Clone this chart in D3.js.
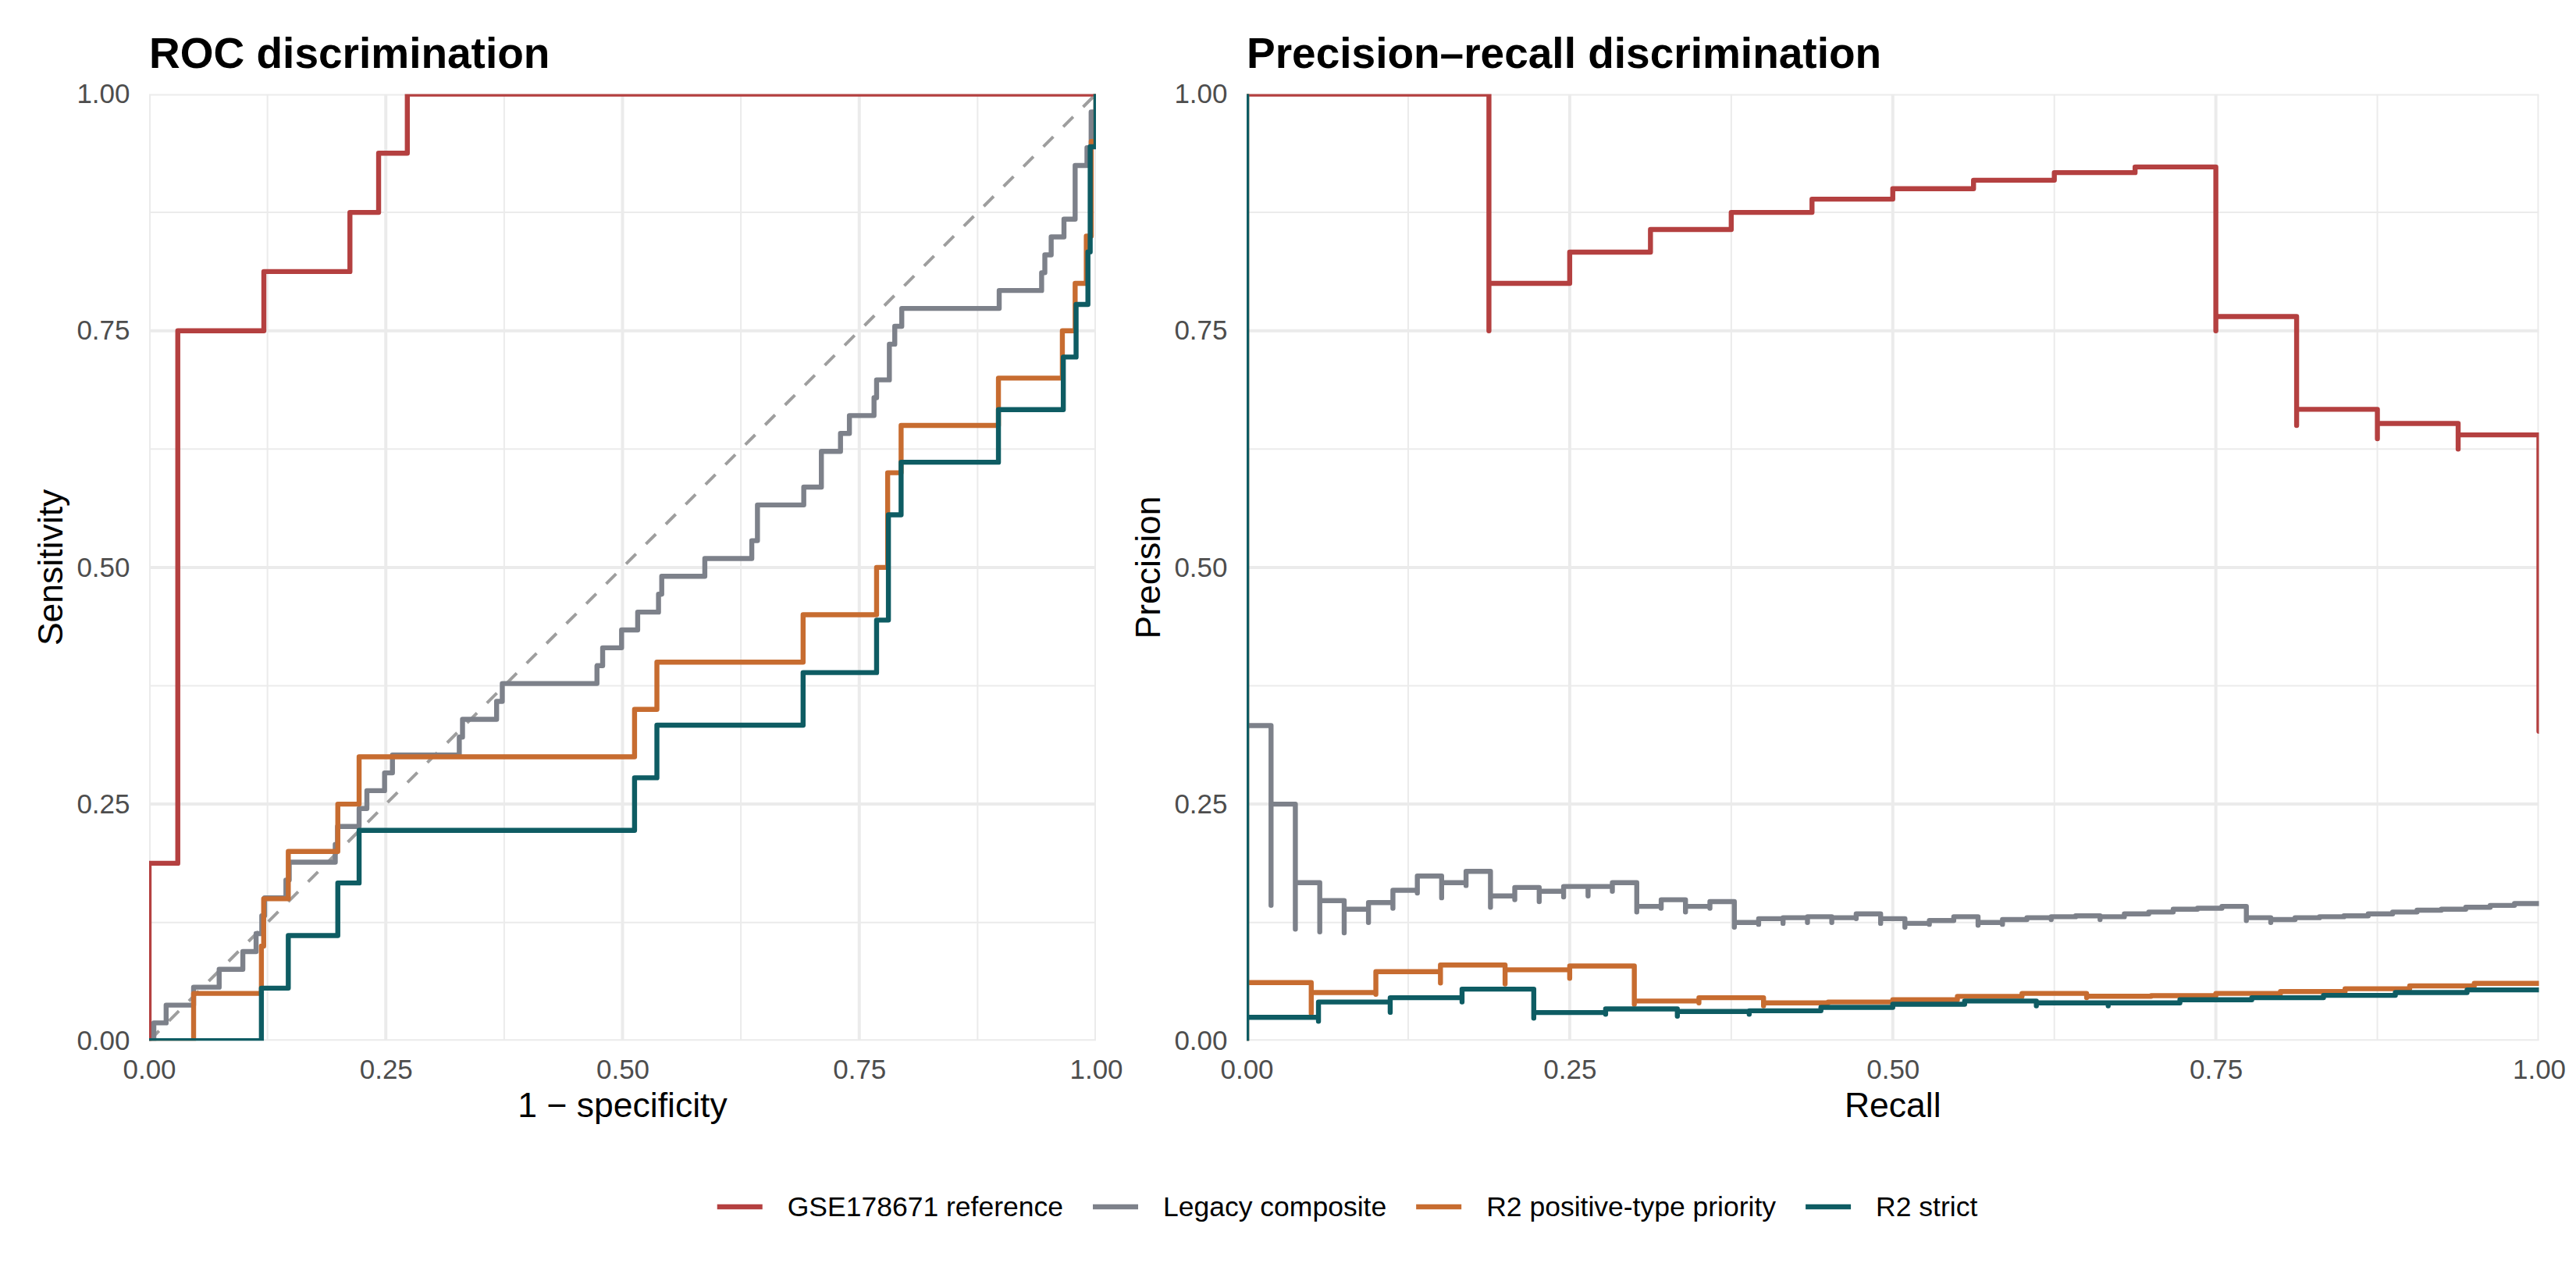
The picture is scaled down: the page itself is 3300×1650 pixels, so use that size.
<!DOCTYPE html>
<html>
<head>
<meta charset="utf-8">
<script src="https://cdn.jsdelivr.net/npm/d3@7/dist/d3.min.js"></script>
<style>
  body { margin: 0; background: #ffffff; }
  text { font-family: "Liberation Sans", Arial, sans-serif; }
</style>
</head>
<body>
<script>
// series, in legend / drawing order
var seriesNames = ["GSE178671 reference", "Legacy composite", "R2 positive-type priority", "R2 strict"];
var seriesColors = ["#B44040", "#7D818A", "#C76C30", "#0E5C63"];

var tickValues = [0, 0.25, 0.5, 0.75, 1];
var minorTicks = [0.125, 0.375, 0.625, 0.875];
var chanceLine = [[0, 0], [1, 1]];

// ROC points: [1 - specificity, sensitivity]
var rocReference = [[0,0],[0,0.1875],[0.0303,0.1875],[0.0303,0.75],[0.1212,0.75],[0.1212,0.8125],
  [0.2121,0.8125],[0.2121,0.875],[0.2424,0.875],[0.2424,0.9375],[0.2727,0.9375],[0.2727,1],[1,1]];

var rocLegacy = [[0,0],[0.005,0],[0.005,0.0189],[0.018,0.0189],[0.018,0.0377],[0.047,0.0377],[0.047,0.0566],
  [0.074,0.0566],[0.074,0.0755],[0.099,0.0755],[0.099,0.0943],[0.113,0.0943],[0.113,0.1132],[0.119,0.1132],
  [0.119,0.1321],[0.122,0.1321],[0.122,0.1509],[0.1445,0.1509],[0.1445,0.1698],[0.148,0.1698],[0.148,0.1887],
  [0.1966,0.1887],[0.1966,0.2075],[0.199,0.2075],[0.199,0.2264],[0.2218,0.2264],[0.2218,0.2453],[0.230,0.2453],
  [0.230,0.2642],[0.2487,0.2642],[0.2487,0.2830],[0.257,0.2830],[0.257,0.3019],[0.3276,0.3019],[0.3276,0.3208],
  [0.331,0.3208],[0.331,0.3396],[0.367,0.3396],[0.367,0.3585],[0.373,0.3585],[0.373,0.3774],[0.473,0.3774],
  [0.473,0.3962],[0.479,0.3962],[0.479,0.4151],[0.499,0.4151],[0.499,0.4340],[0.516,0.4340],[0.516,0.4528],
  [0.538,0.4528],[0.538,0.4717],[0.5414,0.4717],[0.5414,0.4906],[0.5869,0.4906],[0.5869,0.5094],[0.6365,0.5094],
  [0.6365,0.5283],[0.6425,0.5283],[0.6425,0.5660],[0.6914,0.5660],[0.6914,0.5849],[0.710,0.5849],[0.710,0.6226],
  [0.7302,0.6226],[0.7302,0.6415],[0.7396,0.6415],[0.7396,0.6604],[0.7656,0.6604],[0.7656,0.6792],[0.7683,0.6792],
  [0.7683,0.6981],[0.7818,0.6981],[0.7818,0.7358],[0.7875,0.7358],[0.7875,0.7547],[0.7949,0.7547],[0.7949,0.7736],
  [0.8978,0.7736],[0.8978,0.7925],[0.9426,0.7925],[0.9426,0.8113],[0.946,0.8113],[0.946,0.8302],[0.9527,0.8302],
  [0.9527,0.8491],[0.9662,0.8491],[0.9662,0.8679],[0.978,0.8679],[0.978,0.9245],[0.9905,0.9245],[0.9905,0.9434],
  [0.9949,0.9434],[0.9949,0.9811],[1,0.9811],[1,1]];

var rocPositive = [[0,0],[0.047,0],[0.047,0.05],[0.1186,0.05],[0.1186,0.10],[0.121,0.10],[0.121,0.15],[0.147,0.15],
  [0.147,0.20],[0.1993,0.20],[0.1993,0.25],[0.2218,0.25],[0.2218,0.30],[0.5127,0.30],[0.5127,0.35],[0.5363,0.35],
  [0.5363,0.40],[0.6907,0.40],[0.6907,0.45],[0.7683,0.45],[0.7683,0.50],[0.78,0.50],[0.78,0.60],[0.7942,0.60],
  [0.7942,0.65],[0.897,0.65],[0.897,0.70],[0.9645,0.70],[0.9645,0.75],[0.978,0.75],[0.978,0.80],[0.9898,0.80],
  [0.9898,0.85],[0.995,0.85],[0.995,0.95],[1,0.95],[1,1]];

var rocStrict = [[0,0],[0.1186,0],[0.1186,0.0556],[0.147,0.0556],[0.147,0.1111],[0.1993,0.1111],[0.1993,0.1667],
  [0.2218,0.1667],[0.2218,0.2222],[0.5127,0.2222],[0.5127,0.2778],[0.5363,0.2778],[0.5363,0.3333],[0.6907,0.3333],
  [0.6907,0.3889],[0.7683,0.3889],[0.7683,0.4444],[0.7808,0.4444],[0.7808,0.5556],[0.7942,0.5556],[0.7942,0.6111],
  [0.897,0.6111],[0.897,0.6667],[0.9655,0.6667],[0.9655,0.7222],[0.979,0.7222],[0.979,0.7778],[0.9915,0.7778],
  [0.9915,0.8333],[0.9939,0.8333],[0.9939,0.9444],[1,0.9444],[1,1]];

// precision-recall points: [recall, precision]
var prReference = [[0,1],[0.0625,1],[0.125,1],[0.1875,1],[0.1875,0.75],[0.25,0.8],[0.3125,0.833],[0.375,0.857],
  [0.4375,0.875],[0.5,0.889],[0.5625,0.9],[0.625,0.909],[0.6875,0.917],[0.75,0.923],[0.75,0.75],[0.8125,0.765],
  [0.8125,0.65],[0.875,0.667],[0.875,0.636],[0.9375,0.652],[0.9375,0.625],[1,0.64],[1,0.327]];

var prLegacy = [[0,1],[0,0],[0.0189,0.333],[0.0189,0.143],[0.0377,0.250],[0.0377,0.118],[0.0566,0.167],[0.0566,0.115],
  [0.0755,0.148],[0.0755,0.114],[0.0943,0.139],[0.0943,0.125],[0.1132,0.146],[0.1132,0.140],[0.1321,0.159],
  [0.1321,0.156],[0.1509,0.174],[0.1509,0.151],[0.1698,0.167],[0.1698,0.164],[0.1887,0.179],[0.1887,0.141],
  [0.2075,0.153],[0.2075,0.149],[0.2264,0.162],[0.2264,0.147],[0.2453,0.158],[0.2453,0.152],[0.2642,0.163],
  [0.2642,0.153],[0.2830,0.163],[0.2830,0.158],[0.3019,0.167],[0.3019,0.136],[0.3208,0.142],[0.3208,0.140],
  [0.3396,0.149],[0.3396,0.136],[0.3585,0.142],[0.3585,0.140],[0.3774,0.147],[0.3774,0.120],[0.3962,0.125],
  [0.3962,0.123],[0.4151,0.129],[0.4151,0.124],[0.4340,0.130],[0.4340,0.125],[0.4528,0.131],[0.4528,0.125],
  [0.4717,0.130],[0.4717,0.129],[0.4906,0.134],[0.4906,0.124],[0.5094,0.129],[0.5094,0.120],[0.5283,0.124],
  [0.5283,0.123],[0.5472,0.127],[0.5660,0.131],[0.5660,0.122],[0.5849,0.125],[0.5849,0.123],[0.6038,0.128],
  [0.6226,0.130],[0.6226,0.128],[0.6415,0.131],[0.6604,0.132],[0.6604,0.128],[0.6792,0.131],[0.6981,0.134],
  [0.7170,0.136],[0.7358,0.139],[0.7547,0.140],[0.7736,0.142],[0.7736,0.127],[0.7925,0.130],[0.7925,0.125],
  [0.8113,0.128],[0.8302,0.130],[0.8491,0.131],[0.8679,0.132],[0.8868,0.134],[0.9057,0.136],[0.9245,0.138],
  [0.9434,0.139],[0.9623,0.141],[0.9811,0.143],[1,0.145]];

var prPositive = [[0,1],[0,0],[0.05,0.0615],[0.05,0.029],[0.10,0.051],[0.10,0.049],[0.15,0.073],[0.15,0.061],
  [0.20,0.080],[0.20,0.060],[0.25,0.075],[0.25,0.066],[0.30,0.079],[0.30,0.0386],[0.35,0.042],[0.35,0.040],
  [0.40,0.0455],[0.40,0.037],[0.45,0.040],[0.50,0.041],[0.55,0.0433],[0.60,0.0469],[0.65,0.050],[0.65,0.0455],
  [0.70,0.047],[0.75,0.0477],[0.80,0.050],[0.85,0.052],[0.90,0.055],[0.95,0.058],[1,0.0606]];

var prStrict = [[0,1],[0,0],[0.0556,0.0248],[0.0556,0.0207],[0.1111,0.041],[0.1111,0.030],[0.1667,0.0455],
  [0.1667,0.041],[0.2222,0.0546],[0.2222,0.024],[0.2778,0.0298],[0.2778,0.028],[0.3333,0.0336],[0.3333,0.026],
  [0.3889,0.031],[0.3889,0.028],[0.4444,0.0317],[0.5,0.0353],[0.5556,0.0386],[0.6111,0.042],[0.6111,0.037],
  [0.6667,0.040],[0.6667,0.037],[0.7222,0.040],[0.7778,0.0433],[0.8333,0.0455],[0.8889,0.048],[0.9444,0.051],
  [1,0.0537]];

var rocSeries = [rocReference, rocLegacy, rocPositive, rocStrict];
var prSeries = [prReference, prLegacy, prPositive, prStrict];

window.onload = drawFigure();

function drawFigure(){

    var width = 3300,
        height = 1650;

    var svg = d3.select("body")
        .append("svg")
        .attr("width", width)
        .attr("height", height)
        .attr("viewBox", "0 0 " + width + " " + height);

    svg.append("rect")
        .attr("width", width)
        .attr("height", height)
        .attr("fill", "#ffffff");

    var fmt = d3.format(".2f");

    //left panel: ROC
    drawPanel({
        id: "roc",
        left: 191, right: 1404, top: 120.5, bottom: 1333.3,
        title: "ROC discrimination",
        xLabel: "1 \u2212 specificity",
        yLabel: "Sensitivity",
        data: rocSeries,
        curve: d3.curveLinear,
        diagonal: true
    });

    //right panel: precision-recall
    drawPanel({
        id: "pr",
        left: 1597, right: 3252.5, top: 120.5, bottom: 1333.3,
        title: "Precision\u2013recall discrimination",
        xLabel: "Recall",
        yLabel: "Precision",
        data: prSeries,
        curve: d3.curveStepBefore,
        diagonal: false
    });

    function drawPanel(p){
        var x = d3.scaleLinear().domain([0, 1]).range([p.left, p.right]);
        var y = d3.scaleLinear().domain([0, 1]).range([p.bottom, p.top]);

        var g = svg.append("g").attr("class", "panel " + p.id);

        //clip to the panel like ggplot does
        svg.append("clipPath")
            .attr("id", "clip-" + p.id)
            .append("rect")
            .attr("x", p.left)
            .attr("y", p.top)
            .attr("width", p.right - p.left)
            .attr("height", p.bottom - p.top);

        var grid = g.append("g").attr("clip-path", "url(#clip-" + p.id + ")");

        //minor grid
        grid.selectAll(".vminor").data(minorTicks).enter().append("line")
            .attr("x1", d => x(d)).attr("x2", d => x(d))
            .attr("y1", p.top).attr("y2", p.bottom)
            .attr("stroke", "#EBEBEB").attr("stroke-width", 2);
        grid.selectAll(".hminor").data(minorTicks).enter().append("line")
            .attr("y1", d => y(d)).attr("y2", d => y(d))
            .attr("x1", p.left).attr("x2", p.right)
            .attr("stroke", "#EBEBEB").attr("stroke-width", 2);

        //major grid
        grid.selectAll(".vmajor").data(tickValues).enter().append("line")
            .attr("x1", d => x(d)).attr("x2", d => x(d))
            .attr("y1", p.top).attr("y2", p.bottom)
            .attr("stroke", "#EBEBEB").attr("stroke-width", 4);
        grid.selectAll(".hmajor").data(tickValues).enter().append("line")
            .attr("y1", d => y(d)).attr("y2", d => y(d))
            .attr("x1", p.left).attr("x2", p.right)
            .attr("stroke", "#EBEBEB").attr("stroke-width", 4);

        var line = d3.line()
            .x(d => x(d[0]))
            .y(d => y(d[1]))
            .curve(p.curve);

        var marks = g.append("g").attr("clip-path", "url(#clip-" + p.id + ")");

        if (p.diagonal){
            marks.append("path")
                .attr("d", d3.line().x(d => x(d[0])).y(d => y(d[1]))(chanceLine))
                .attr("fill", "none")
                .attr("stroke", "#9E9E9E")
                .attr("stroke-width", 4)
                .attr("stroke-dasharray", "18,18");
        }

        marks.selectAll(".curve")
            .data(p.data)
            .enter()
            .append("path")
            .attr("class", "curve")
            .attr("d", d => line(d))
            .attr("fill", "none")
            .attr("stroke", (d, i) => seriesColors[i])
            .attr("stroke-width", 6.4)
            .attr("stroke-linecap", "round")
            .attr("stroke-linejoin", "round");

        //axes, no tick marks, no axis line
        var xAxis = g.append("g")
            .attr("transform", "translate(0," + p.bottom + ")")
            .call(d3.axisBottom(x).tickValues(tickValues).tickFormat(fmt).tickSize(0).tickPadding(23.5));
        var yAxis = g.append("g")
            .attr("transform", "translate(" + p.left + ",0)")
            .call(d3.axisLeft(y).tickValues(tickValues).tickFormat(fmt).tickSize(0).tickPadding(24.5));

        [xAxis, yAxis].forEach(function(a){
            a.select(".domain").remove();
            a.attr("font-family", null).attr("font-size", null);
            a.selectAll("text")
                .attr("font-size", 35)
                .attr("fill", "#4D4D4D");
        });

        //titles
        g.append("text")
            .attr("x", p.left)
            .attr("y", 87)
            .attr("font-size", 55)
            .attr("font-weight", "bold")
            .attr("fill", "#000000")
            .text(p.title);

        g.append("text")
            .attr("x", (p.left + p.right) / 2)
            .attr("y", 1431)
            .attr("text-anchor", "middle")
            .attr("font-size", 44.5)
            .attr("fill", "#000000")
            .text(p.xLabel);

        g.append("text")
            .attr("transform", "translate(" + (p.left - 111) + "," + ((p.top + p.bottom) / 2) + ") rotate(-90)")
            .attr("text-anchor", "middle")
            .attr("font-size", 44.5)
            .attr("fill", "#000000")
            .text(p.yLabel);
    }

    //legend along the bottom
    var legend = svg.append("g").attr("class", "legend");
    var keyLen = 58, keyGap = 32, itemGap = 38, cx = 1726, cy = 1546;

    var items = legend.selectAll(".item")
        .data(seriesNames)
        .enter()
        .append("g")
        .attr("class", "item");

    items.append("line")
        .attr("x1", 0).attr("x2", keyLen)
        .attr("y1", 0).attr("y2", 0)
        .attr("stroke", (d, i) => seriesColors[i])
        .attr("stroke-width", 6.5);

    items.append("text")
        .attr("x", keyLen + keyGap)
        .attr("y", 0)
        .attr("dy", "0.35em")
        .attr("font-size", 35.5)
        .attr("fill", "#000000")
        .text(d => d);

    var offsets = [], pos = 0;
    items.each(function(){
        offsets.push(pos);
        var w = d3.select(this).select("text").node().getComputedTextLength();
        pos += keyLen + keyGap + w + itemGap;
    });
    var total = pos - itemGap;
    var start = cx - total / 2;

    items.attr("transform", (d, i) => "translate(" + (start + offsets[i]) + "," + cy + ")");
}
</script>
</body>
</html>
